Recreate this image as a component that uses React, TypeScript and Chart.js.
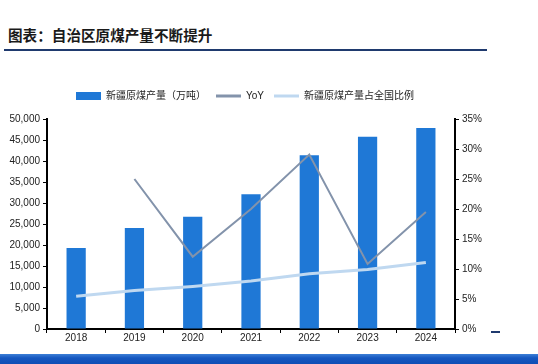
import React, { useEffect, useRef } from "react";
import { Chart, registerables } from "chart.js";

Chart.register(...registerables);

const years = ["2018", "2019", "2020", "2021", "2022", "2023", "2024"];
const production = [19260, 24060, 26730, 32080, 41340, 45760, 47880];
const yoy = [null, 25.0, 12.05, 20.0, 29.06, 10.85, 19.5];
const share = [5.45, 6.4, 7.1, 8.0, 9.2, 9.9, 11.1];
const leftTicksMax = 50000;
const rightTicksMax = 35;

const FONT = "'Liberation Sans', 'Noto Sans CJK SC', Arial, sans-serif";

const legendMargin = {
  id: "legendMargin",
  beforeInit(chart: any) {
    const legend = chart.legend;
    if (!legend) return;
    const fit = legend.fit;
    legend.fit = function () {
      fit.call(this);
      this.height += 8;
    };
  },
};

export default function App() {
  const ref = useRef<HTMLCanvasElement>(null);

  useEffect(() => {
    document.body.style.margin = "0";
    const ctx = ref.current!.getContext("2d")!;
    const chart = new Chart(ctx, {
      data: {
        labels: years,
        datasets: [
          {
            type: "bar",
            label: "新疆原煤产量（万吨）",
            data: production,
            backgroundColor: "#1f78d6",
            borderWidth: 0,
            yAxisID: "y",
            barPercentage: 0.33,
            categoryPercentage: 1,
            order: 3,
          } as any,
          {
            type: "line",
            label: "YoY",
            data: yoy,
            borderColor: "#8393ab",
            backgroundColor: "#8393ab",
            borderWidth: 2,
            pointRadius: 0,
            yAxisID: "y1",
            order: 2,
          } as any,
          {
            type: "line",
            label: "新疆原煤产量占全国比例",
            data: share,
            borderColor: "#bfd8f0",
            backgroundColor: "#bfd8f0",
            borderWidth: 3,
            pointRadius: 0,
            yAxisID: "y1",
            order: 1,
          } as any,
        ],
      },
      plugins: [legendMargin],
      options: {
        animation: false,
        responsive: false,
        maintainAspectRatio: false,
        layout: { padding: { left: 0, right: 48, top: 0, bottom: 0 } },
        plugins: {
          tooltip: { enabled: false },
          legend: {
            position: "top",
            labels: {
              usePointStyle: true,
              pointStyleWidth: 25,
              boxHeight: 8,
              padding: 10,
              color: "#222",
              font: { family: FONT, size: 10 },
              sort: (a: any, b: any) => a.datasetIndex - b.datasetIndex,
              generateLabels: (c: any) => {
                const items = Chart.defaults.plugins.legend.labels.generateLabels(c);
                return items.map((it: any) => {
                  const ds = c.data.datasets[it.datasetIndex];
                  if (it.datasetIndex === 0) {
                    return {
                      ...it,
                      pointStyle: "rect",
                      fillStyle: ds.backgroundColor,
                      lineWidth: 0,
                      strokeStyle: ds.backgroundColor,
                    };
                  }
                  return {
                    ...it,
                    pointStyle: "line",
                    lineWidth: 3,
                    strokeStyle: ds.borderColor,
                    fillStyle: ds.borderColor,
                  };
                });
              },
            },
          },
        },
        scales: {
          x: {
            offset: true,
            grid: {
              offset: true,
              drawOnChartArea: false,
              drawTicks: true,
              tickLength: 4,
              color: "#000",
              lineWidth: 1,
            },
            border: { display: true, color: "#000", width: 2 },
            ticks: { color: "#222", font: { family: FONT, size: 10 }, padding: -1 },
          },
          y: {
            position: "left",
            min: 0,
            max: leftTicksMax,
            grid: { drawOnChartArea: false, drawTicks: true, tickLength: 4, color: "#000" },
            border: { display: true, color: "#000", width: 2 },
            ticks: {
              stepSize: 5000,
              color: "#222",
              font: { family: FONT, size: 10 },
              padding: 3,
              callback: (v: any) => Number(v).toLocaleString("en-US"),
            },
            afterFit: (s: any) => {
              s.width = 47;
            },
          },
          y1: {
            position: "right",
            min: 0,
            max: rightTicksMax,
            grid: { drawOnChartArea: false, drawTicks: true, tickLength: 4, color: "#000" },
            border: { display: true, color: "#000", width: 2 },
            ticks: {
              stepSize: 5,
              color: "#222",
              font: { family: FONT, size: 10 },
              padding: 3,
              callback: (v: any) => v + "%",
            },
            afterFit: (s: any) => {
              s.width = 35;
            },
          },
        },
      },
    });
    return () => chart.destroy();
  }, []);

  return (
    <div style={{ position: "relative", width: 538, height: 364, background: "#fff", overflow: "hidden" }}>
      <div
        style={{
          position: "absolute",
          left: 8,
          top: 25,
          fontFamily: "'Noto Sans CJK SC', sans-serif",
          fontWeight: 700,
          fontSize: 14.6,
          color: "#1a1a1a",
          lineHeight: "20px",
          whiteSpace: "nowrap",
        }}
      >
        图表：自治区原煤产量不断提升
      </div>
      <div style={{ position: "absolute", left: 4, top: 49, width: 483, height: 2, background: "#1f3a6e" }} />
      <canvas
        ref={ref}
        width={538}
        height={262}
        style={{ position: "absolute", left: 0, top: 81, width: 538, height: 262 }}
      />
      <div style={{ position: "absolute", left: 491, top: 331, width: 9, height: 2, background: "#1f3a6e" }} />
      <div
        style={{
          position: "absolute",
          left: 0,
          top: 354,
          width: 538,
          height: 10,
          background: "linear-gradient(to bottom, #3d7fd6 0%, #1557c0 40%, #0f4db5 100%)",
        }}
      />
    </div>
  );
}
